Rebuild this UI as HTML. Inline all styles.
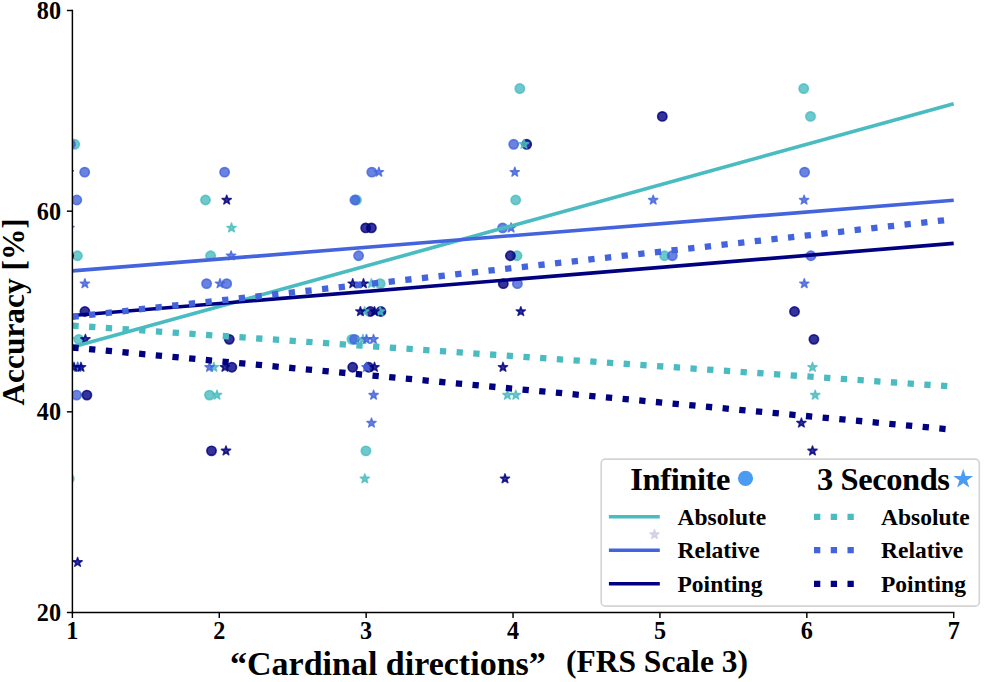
<!DOCTYPE html>
<html><head><meta charset="utf-8"><style>
html,body{margin:0;padding:0;background:#fff;width:984px;height:682px;overflow:hidden}
svg{display:block}
text{font-family:"Liberation Serif",serif;font-weight:bold}
</style></head><body>
<svg width="984" height="682" viewBox="0 0 984 682">
<defs><clipPath id="pa"><rect x="72.4" y="0" width="911.6" height="612.5"/></clipPath></defs>
<rect width="984" height="682" fill="#fff"/>
<g clip-path="url(#pa)">
<circle cx="74.70" cy="144.28" r="4.60" fill="#4abcc1" fill-opacity="0.80" stroke="#4abcc1" stroke-opacity="0.80" stroke-width="1.70"/>
<circle cx="77.40" cy="255.76" r="4.60" fill="#4abcc1" fill-opacity="0.80" stroke="#4abcc1" stroke-opacity="0.80" stroke-width="1.70"/>
<circle cx="78.80" cy="339.37" r="4.60" fill="#4abcc1" fill-opacity="0.80" stroke="#4abcc1" stroke-opacity="0.80" stroke-width="1.70"/>
<circle cx="69.20" cy="478.72" r="4.60" fill="#4abcc1" fill-opacity="0.80" stroke="#4abcc1" stroke-opacity="0.80" stroke-width="1.70"/>
<circle cx="205.50" cy="200.02" r="4.60" fill="#4abcc1" fill-opacity="0.80" stroke="#4abcc1" stroke-opacity="0.80" stroke-width="1.70"/>
<circle cx="210.60" cy="255.76" r="4.60" fill="#4abcc1" fill-opacity="0.80" stroke="#4abcc1" stroke-opacity="0.80" stroke-width="1.70"/>
<circle cx="209.50" cy="395.11" r="4.60" fill="#4abcc1" fill-opacity="0.80" stroke="#4abcc1" stroke-opacity="0.80" stroke-width="1.70"/>
<circle cx="356.50" cy="200.02" r="4.60" fill="#4abcc1" fill-opacity="0.80" stroke="#4abcc1" stroke-opacity="0.80" stroke-width="1.70"/>
<circle cx="380.20" cy="283.63" r="4.60" fill="#4abcc1" fill-opacity="0.80" stroke="#4abcc1" stroke-opacity="0.80" stroke-width="1.70"/>
<circle cx="351.90" cy="339.37" r="4.60" fill="#4abcc1" fill-opacity="0.80" stroke="#4abcc1" stroke-opacity="0.80" stroke-width="1.70"/>
<circle cx="365.90" cy="450.85" r="4.60" fill="#4abcc1" fill-opacity="0.80" stroke="#4abcc1" stroke-opacity="0.80" stroke-width="1.70"/>
<circle cx="519.80" cy="88.54" r="4.60" fill="#4abcc1" fill-opacity="0.80" stroke="#4abcc1" stroke-opacity="0.80" stroke-width="1.70"/>
<circle cx="515.70" cy="200.02" r="4.60" fill="#4abcc1" fill-opacity="0.80" stroke="#4abcc1" stroke-opacity="0.80" stroke-width="1.70"/>
<circle cx="517.00" cy="255.76" r="4.60" fill="#4abcc1" fill-opacity="0.80" stroke="#4abcc1" stroke-opacity="0.80" stroke-width="1.70"/>
<circle cx="664.60" cy="255.76" r="4.60" fill="#4abcc1" fill-opacity="0.80" stroke="#4abcc1" stroke-opacity="0.80" stroke-width="1.70"/>
<circle cx="803.70" cy="88.54" r="4.60" fill="#4abcc1" fill-opacity="0.80" stroke="#4abcc1" stroke-opacity="0.80" stroke-width="1.70"/>
<circle cx="810.50" cy="116.41" r="4.60" fill="#4abcc1" fill-opacity="0.80" stroke="#4abcc1" stroke-opacity="0.80" stroke-width="1.70"/>
<circle cx="70.50" cy="144.28" r="4.60" fill="#4364dc" fill-opacity="0.80" stroke="#4364dc" stroke-opacity="0.80" stroke-width="1.70"/>
<circle cx="84.70" cy="172.15" r="4.60" fill="#4364dc" fill-opacity="0.80" stroke="#4364dc" stroke-opacity="0.80" stroke-width="1.70"/>
<circle cx="76.80" cy="200.02" r="4.60" fill="#4364dc" fill-opacity="0.80" stroke="#4364dc" stroke-opacity="0.80" stroke-width="1.70"/>
<circle cx="76.60" cy="395.11" r="4.60" fill="#4364dc" fill-opacity="0.80" stroke="#4364dc" stroke-opacity="0.80" stroke-width="1.70"/>
<circle cx="224.60" cy="172.15" r="4.60" fill="#4364dc" fill-opacity="0.80" stroke="#4364dc" stroke-opacity="0.80" stroke-width="1.70"/>
<circle cx="206.60" cy="283.63" r="4.60" fill="#4364dc" fill-opacity="0.80" stroke="#4364dc" stroke-opacity="0.80" stroke-width="1.70"/>
<circle cx="226.70" cy="283.63" r="4.60" fill="#4364dc" fill-opacity="0.80" stroke="#4364dc" stroke-opacity="0.80" stroke-width="1.70"/>
<circle cx="371.80" cy="172.15" r="4.60" fill="#4364dc" fill-opacity="0.80" stroke="#4364dc" stroke-opacity="0.80" stroke-width="1.70"/>
<circle cx="354.90" cy="200.02" r="4.60" fill="#4364dc" fill-opacity="0.80" stroke="#4364dc" stroke-opacity="0.80" stroke-width="1.70"/>
<circle cx="358.60" cy="255.76" r="4.60" fill="#4364dc" fill-opacity="0.80" stroke="#4364dc" stroke-opacity="0.80" stroke-width="1.70"/>
<circle cx="354.60" cy="339.37" r="4.60" fill="#4364dc" fill-opacity="0.80" stroke="#4364dc" stroke-opacity="0.80" stroke-width="1.70"/>
<circle cx="513.70" cy="144.28" r="4.60" fill="#4364dc" fill-opacity="0.80" stroke="#4364dc" stroke-opacity="0.80" stroke-width="1.70"/>
<circle cx="502.60" cy="227.89" r="4.60" fill="#4364dc" fill-opacity="0.80" stroke="#4364dc" stroke-opacity="0.80" stroke-width="1.70"/>
<circle cx="517.40" cy="283.63" r="4.60" fill="#4364dc" fill-opacity="0.80" stroke="#4364dc" stroke-opacity="0.80" stroke-width="1.70"/>
<circle cx="672.30" cy="255.76" r="4.60" fill="#4364dc" fill-opacity="0.80" stroke="#4364dc" stroke-opacity="0.80" stroke-width="1.70"/>
<circle cx="804.60" cy="172.15" r="4.60" fill="#4364dc" fill-opacity="0.80" stroke="#4364dc" stroke-opacity="0.80" stroke-width="1.70"/>
<circle cx="810.90" cy="255.76" r="4.60" fill="#4364dc" fill-opacity="0.80" stroke="#4364dc" stroke-opacity="0.80" stroke-width="1.70"/>
<circle cx="68.70" cy="255.76" r="4.60" fill="#000080" fill-opacity="0.80" stroke="#000080" stroke-opacity="0.80" stroke-width="1.70"/>
<circle cx="84.90" cy="311.50" r="4.60" fill="#000080" fill-opacity="0.80" stroke="#000080" stroke-opacity="0.80" stroke-width="1.70"/>
<circle cx="86.90" cy="395.11" r="4.60" fill="#000080" fill-opacity="0.80" stroke="#000080" stroke-opacity="0.80" stroke-width="1.70"/>
<circle cx="229.30" cy="339.37" r="4.60" fill="#000080" fill-opacity="0.80" stroke="#000080" stroke-opacity="0.80" stroke-width="1.70"/>
<circle cx="231.90" cy="367.24" r="4.60" fill="#000080" fill-opacity="0.80" stroke="#000080" stroke-opacity="0.80" stroke-width="1.70"/>
<circle cx="211.50" cy="450.85" r="4.60" fill="#000080" fill-opacity="0.80" stroke="#000080" stroke-opacity="0.80" stroke-width="1.70"/>
<circle cx="365.70" cy="227.89" r="4.60" fill="#000080" fill-opacity="0.80" stroke="#000080" stroke-opacity="0.80" stroke-width="1.70"/>
<circle cx="371.40" cy="227.89" r="4.60" fill="#000080" fill-opacity="0.80" stroke="#000080" stroke-opacity="0.80" stroke-width="1.70"/>
<circle cx="370.30" cy="311.50" r="4.60" fill="#000080" fill-opacity="0.80" stroke="#000080" stroke-opacity="0.80" stroke-width="1.70"/>
<circle cx="380.90" cy="311.50" r="4.60" fill="#000080" fill-opacity="0.80" stroke="#000080" stroke-opacity="0.80" stroke-width="1.70"/>
<circle cx="352.70" cy="367.24" r="4.60" fill="#000080" fill-opacity="0.80" stroke="#000080" stroke-opacity="0.80" stroke-width="1.70"/>
<circle cx="368.70" cy="367.24" r="4.60" fill="#000080" fill-opacity="0.80" stroke="#000080" stroke-opacity="0.80" stroke-width="1.70"/>
<circle cx="526.70" cy="144.28" r="4.60" fill="#000080" fill-opacity="0.80" stroke="#000080" stroke-opacity="0.80" stroke-width="1.70"/>
<circle cx="510.40" cy="255.76" r="4.60" fill="#000080" fill-opacity="0.80" stroke="#000080" stroke-opacity="0.80" stroke-width="1.70"/>
<circle cx="503.30" cy="283.63" r="4.60" fill="#000080" fill-opacity="0.80" stroke="#000080" stroke-opacity="0.80" stroke-width="1.70"/>
<circle cx="662.30" cy="116.41" r="4.60" fill="#000080" fill-opacity="0.80" stroke="#000080" stroke-opacity="0.80" stroke-width="1.70"/>
<circle cx="794.50" cy="311.50" r="4.60" fill="#000080" fill-opacity="0.80" stroke="#000080" stroke-opacity="0.80" stroke-width="1.70"/>
<circle cx="813.90" cy="339.37" r="4.60" fill="#000080" fill-opacity="0.80" stroke="#000080" stroke-opacity="0.80" stroke-width="1.70"/>
<path d="M77.50,362.39 L78.59,365.74 L82.11,365.74 L79.26,367.81 L80.35,371.16 L77.50,369.09 L74.65,371.16 L75.74,367.81 L72.89,365.74 L76.41,365.74Z" fill="#4abcc1" fill-opacity="0.80" stroke="#4abcc1" stroke-opacity="0.80" stroke-width="1.50" stroke-linejoin="round"/>
<path d="M231.50,223.04 L232.59,226.39 L236.11,226.39 L233.26,228.46 L234.35,231.81 L231.50,229.74 L228.65,231.81 L229.74,228.46 L226.89,226.39 L230.41,226.39Z" fill="#4abcc1" fill-opacity="0.80" stroke="#4abcc1" stroke-opacity="0.80" stroke-width="1.50" stroke-linejoin="round"/>
<path d="M213.90,362.39 L214.99,365.74 L218.51,365.74 L215.66,367.81 L216.75,371.16 L213.90,369.09 L211.05,371.16 L212.14,367.81 L209.29,365.74 L212.81,365.74Z" fill="#4abcc1" fill-opacity="0.80" stroke="#4abcc1" stroke-opacity="0.80" stroke-width="1.50" stroke-linejoin="round"/>
<path d="M217.00,390.26 L218.09,393.61 L221.61,393.61 L218.76,395.68 L219.85,399.03 L217.00,396.96 L214.15,399.03 L215.24,395.68 L212.39,393.61 L215.91,393.61Z" fill="#4abcc1" fill-opacity="0.80" stroke="#4abcc1" stroke-opacity="0.80" stroke-width="1.50" stroke-linejoin="round"/>
<path d="M371.40,278.78 L372.49,282.13 L376.01,282.13 L373.16,284.20 L374.25,287.55 L371.40,285.48 L368.55,287.55 L369.64,284.20 L366.79,282.13 L370.31,282.13Z" fill="#4abcc1" fill-opacity="0.80" stroke="#4abcc1" stroke-opacity="0.80" stroke-width="1.50" stroke-linejoin="round"/>
<path d="M364.60,306.65 L365.69,310.00 L369.21,310.00 L366.36,312.07 L367.45,315.42 L364.60,313.35 L361.75,315.42 L362.84,312.07 L359.99,310.00 L363.51,310.00Z" fill="#4abcc1" fill-opacity="0.80" stroke="#4abcc1" stroke-opacity="0.80" stroke-width="1.50" stroke-linejoin="round"/>
<path d="M380.10,306.65 L381.19,310.00 L384.71,310.00 L381.86,312.07 L382.95,315.42 L380.10,313.35 L377.25,315.42 L378.34,312.07 L375.49,310.00 L379.01,310.00Z" fill="#4abcc1" fill-opacity="0.80" stroke="#4abcc1" stroke-opacity="0.80" stroke-width="1.50" stroke-linejoin="round"/>
<path d="M362.90,334.52 L363.99,337.87 L367.51,337.87 L364.66,339.94 L365.75,343.29 L362.90,341.22 L360.05,343.29 L361.14,339.94 L358.29,337.87 L361.81,337.87Z" fill="#4abcc1" fill-opacity="0.80" stroke="#4abcc1" stroke-opacity="0.80" stroke-width="1.50" stroke-linejoin="round"/>
<path d="M364.80,473.87 L365.89,477.22 L369.41,477.22 L366.56,479.29 L367.65,482.65 L364.80,480.57 L361.95,482.65 L363.04,479.29 L360.19,477.22 L363.71,477.22Z" fill="#4abcc1" fill-opacity="0.80" stroke="#4abcc1" stroke-opacity="0.80" stroke-width="1.50" stroke-linejoin="round"/>
<path d="M524.00,139.43 L525.09,142.78 L528.61,142.78 L525.76,144.85 L526.85,148.20 L524.00,146.13 L521.15,148.20 L522.24,144.85 L519.39,142.78 L522.91,142.78Z" fill="#4abcc1" fill-opacity="0.80" stroke="#4abcc1" stroke-opacity="0.80" stroke-width="1.50" stroke-linejoin="round"/>
<path d="M507.40,390.26 L508.49,393.61 L512.01,393.61 L509.16,395.68 L510.25,399.03 L507.40,396.96 L504.55,399.03 L505.64,395.68 L502.79,393.61 L506.31,393.61Z" fill="#4abcc1" fill-opacity="0.80" stroke="#4abcc1" stroke-opacity="0.80" stroke-width="1.50" stroke-linejoin="round"/>
<path d="M515.80,390.26 L516.89,393.61 L520.41,393.61 L517.56,395.68 L518.65,399.03 L515.80,396.96 L512.95,399.03 L514.04,395.68 L511.19,393.61 L514.71,393.61Z" fill="#4abcc1" fill-opacity="0.80" stroke="#4abcc1" stroke-opacity="0.80" stroke-width="1.50" stroke-linejoin="round"/>
<path d="M659.30,473.87 L660.39,477.22 L663.91,477.22 L661.06,479.29 L662.15,482.65 L659.30,480.57 L656.45,482.65 L657.54,479.29 L654.69,477.22 L658.21,477.22Z" fill="#4abcc1" fill-opacity="0.80" stroke="#4abcc1" stroke-opacity="0.80" stroke-width="1.50" stroke-linejoin="round"/>
<path d="M812.50,362.39 L813.59,365.74 L817.11,365.74 L814.26,367.81 L815.35,371.16 L812.50,369.09 L809.65,371.16 L810.74,367.81 L807.89,365.74 L811.41,365.74Z" fill="#4abcc1" fill-opacity="0.80" stroke="#4abcc1" stroke-opacity="0.80" stroke-width="1.50" stroke-linejoin="round"/>
<path d="M815.20,390.26 L816.29,393.61 L819.81,393.61 L816.96,395.68 L818.05,399.03 L815.20,396.96 L812.35,399.03 L813.44,395.68 L810.59,393.61 L814.11,393.61Z" fill="#4abcc1" fill-opacity="0.80" stroke="#4abcc1" stroke-opacity="0.80" stroke-width="1.50" stroke-linejoin="round"/>
<path d="M69.50,223.04 L70.59,226.39 L74.11,226.39 L71.26,228.46 L72.35,231.81 L69.50,229.74 L66.65,231.81 L67.74,228.46 L64.89,226.39 L68.41,226.39Z" fill="#4364dc" fill-opacity="0.80" stroke="#4364dc" stroke-opacity="0.80" stroke-width="1.50" stroke-linejoin="round"/>
<path d="M84.90,278.78 L85.99,282.13 L89.51,282.13 L86.66,284.20 L87.75,287.55 L84.90,285.48 L82.05,287.55 L83.14,284.20 L80.29,282.13 L83.81,282.13Z" fill="#4364dc" fill-opacity="0.80" stroke="#4364dc" stroke-opacity="0.80" stroke-width="1.50" stroke-linejoin="round"/>
<path d="M68.50,334.52 L69.59,337.87 L73.11,337.87 L70.26,339.94 L71.35,343.29 L68.50,341.22 L65.65,343.29 L66.74,339.94 L63.89,337.87 L67.41,337.87Z" fill="#4364dc" fill-opacity="0.80" stroke="#4364dc" stroke-opacity="0.80" stroke-width="1.50" stroke-linejoin="round"/>
<path d="M77.80,362.39 L78.89,365.74 L82.41,365.74 L79.56,367.81 L80.65,371.16 L77.80,369.09 L74.95,371.16 L76.04,367.81 L73.19,365.74 L76.71,365.74Z" fill="#4364dc" fill-opacity="0.80" stroke="#4364dc" stroke-opacity="0.80" stroke-width="1.50" stroke-linejoin="round"/>
<path d="M231.10,250.91 L232.19,254.26 L235.71,254.26 L232.86,256.33 L233.95,259.68 L231.10,257.61 L228.25,259.68 L229.34,256.33 L226.49,254.26 L230.01,254.26Z" fill="#4364dc" fill-opacity="0.80" stroke="#4364dc" stroke-opacity="0.80" stroke-width="1.50" stroke-linejoin="round"/>
<path d="M220.00,278.78 L221.09,282.13 L224.61,282.13 L221.76,284.20 L222.85,287.55 L220.00,285.48 L217.15,287.55 L218.24,284.20 L215.39,282.13 L218.91,282.13Z" fill="#4364dc" fill-opacity="0.80" stroke="#4364dc" stroke-opacity="0.80" stroke-width="1.50" stroke-linejoin="round"/>
<path d="M209.50,362.39 L210.59,365.74 L214.11,365.74 L211.26,367.81 L212.35,371.16 L209.50,369.09 L206.65,371.16 L207.74,367.81 L204.89,365.74 L208.41,365.74Z" fill="#4364dc" fill-opacity="0.80" stroke="#4364dc" stroke-opacity="0.80" stroke-width="1.50" stroke-linejoin="round"/>
<path d="M378.90,167.30 L379.99,170.65 L383.51,170.65 L380.66,172.72 L381.75,176.07 L378.90,174.00 L376.05,176.07 L377.14,172.72 L374.29,170.65 L377.81,170.65Z" fill="#4364dc" fill-opacity="0.80" stroke="#4364dc" stroke-opacity="0.80" stroke-width="1.50" stroke-linejoin="round"/>
<path d="M366.50,334.52 L367.59,337.87 L371.11,337.87 L368.26,339.94 L369.35,343.29 L366.50,341.22 L363.65,343.29 L364.74,339.94 L361.89,337.87 L365.41,337.87Z" fill="#4364dc" fill-opacity="0.80" stroke="#4364dc" stroke-opacity="0.80" stroke-width="1.50" stroke-linejoin="round"/>
<path d="M373.50,334.52 L374.59,337.87 L378.11,337.87 L375.26,339.94 L376.35,343.29 L373.50,341.22 L370.65,343.29 L371.74,339.94 L368.89,337.87 L372.41,337.87Z" fill="#4364dc" fill-opacity="0.80" stroke="#4364dc" stroke-opacity="0.80" stroke-width="1.50" stroke-linejoin="round"/>
<path d="M366.50,362.39 L367.59,365.74 L371.11,365.74 L368.26,367.81 L369.35,371.16 L366.50,369.09 L363.65,371.16 L364.74,367.81 L361.89,365.74 L365.41,365.74Z" fill="#4364dc" fill-opacity="0.80" stroke="#4364dc" stroke-opacity="0.80" stroke-width="1.50" stroke-linejoin="round"/>
<path d="M373.60,390.26 L374.69,393.61 L378.21,393.61 L375.36,395.68 L376.45,399.03 L373.60,396.96 L370.75,399.03 L371.84,395.68 L368.99,393.61 L372.51,393.61Z" fill="#4364dc" fill-opacity="0.80" stroke="#4364dc" stroke-opacity="0.80" stroke-width="1.50" stroke-linejoin="round"/>
<path d="M371.50,418.13 L372.59,421.48 L376.11,421.48 L373.26,423.55 L374.35,426.91 L371.50,424.83 L368.65,426.91 L369.74,423.55 L366.89,421.48 L370.41,421.48Z" fill="#4364dc" fill-opacity="0.80" stroke="#4364dc" stroke-opacity="0.80" stroke-width="1.50" stroke-linejoin="round"/>
<path d="M514.80,167.30 L515.89,170.65 L519.41,170.65 L516.56,172.72 L517.65,176.07 L514.80,174.00 L511.95,176.07 L513.04,172.72 L510.19,170.65 L513.71,170.65Z" fill="#4364dc" fill-opacity="0.80" stroke="#4364dc" stroke-opacity="0.80" stroke-width="1.50" stroke-linejoin="round"/>
<path d="M511.10,223.04 L512.19,226.39 L515.71,226.39 L512.86,228.46 L513.95,231.81 L511.10,229.74 L508.25,231.81 L509.34,228.46 L506.49,226.39 L510.01,226.39Z" fill="#4364dc" fill-opacity="0.80" stroke="#4364dc" stroke-opacity="0.80" stroke-width="1.50" stroke-linejoin="round"/>
<path d="M653.20,195.17 L654.29,198.52 L657.81,198.52 L654.96,200.59 L656.05,203.94 L653.20,201.87 L650.35,203.94 L651.44,200.59 L648.59,198.52 L652.11,198.52Z" fill="#4364dc" fill-opacity="0.80" stroke="#4364dc" stroke-opacity="0.80" stroke-width="1.50" stroke-linejoin="round"/>
<path d="M804.10,195.17 L805.19,198.52 L808.71,198.52 L805.86,200.59 L806.95,203.94 L804.10,201.87 L801.25,203.94 L802.34,200.59 L799.49,198.52 L803.01,198.52Z" fill="#4364dc" fill-opacity="0.80" stroke="#4364dc" stroke-opacity="0.80" stroke-width="1.50" stroke-linejoin="round"/>
<path d="M804.30,278.78 L805.39,282.13 L808.91,282.13 L806.06,284.20 L807.15,287.55 L804.30,285.48 L801.45,287.55 L802.54,284.20 L799.69,282.13 L803.21,282.13Z" fill="#4364dc" fill-opacity="0.80" stroke="#4364dc" stroke-opacity="0.80" stroke-width="1.50" stroke-linejoin="round"/>
<path d="M68.70,167.30 L69.79,170.65 L73.31,170.65 L70.46,172.72 L71.55,176.07 L68.70,174.00 L65.85,176.07 L66.94,172.72 L64.09,170.65 L67.61,170.65Z" fill="#000080" fill-opacity="0.80" stroke="#000080" stroke-opacity="0.80" stroke-width="1.50" stroke-linejoin="round"/>
<path d="M85.40,334.52 L86.49,337.87 L90.01,337.87 L87.16,339.94 L88.25,343.29 L85.40,341.22 L82.55,343.29 L83.64,339.94 L80.79,337.87 L84.31,337.87Z" fill="#000080" fill-opacity="0.80" stroke="#000080" stroke-opacity="0.80" stroke-width="1.50" stroke-linejoin="round"/>
<path d="M74.00,362.39 L75.09,365.74 L78.61,365.74 L75.76,367.81 L76.85,371.16 L74.00,369.09 L71.15,371.16 L72.24,367.81 L69.39,365.74 L72.91,365.74Z" fill="#000080" fill-opacity="0.80" stroke="#000080" stroke-opacity="0.80" stroke-width="1.50" stroke-linejoin="round"/>
<path d="M81.00,362.39 L82.09,365.74 L85.61,365.74 L82.76,367.81 L83.85,371.16 L81.00,369.09 L78.15,371.16 L79.24,367.81 L76.39,365.74 L79.91,365.74Z" fill="#000080" fill-opacity="0.80" stroke="#000080" stroke-opacity="0.80" stroke-width="1.50" stroke-linejoin="round"/>
<path d="M77.60,557.48 L78.69,560.83 L82.21,560.83 L79.36,562.91 L80.45,566.26 L77.60,564.19 L74.75,566.26 L75.84,562.91 L72.99,560.83 L76.51,560.83Z" fill="#000080" fill-opacity="0.80" stroke="#000080" stroke-opacity="0.80" stroke-width="1.50" stroke-linejoin="round"/>
<path d="M226.70,195.17 L227.79,198.52 L231.31,198.52 L228.46,200.59 L229.55,203.94 L226.70,201.87 L223.85,203.94 L224.94,200.59 L222.09,198.52 L225.61,198.52Z" fill="#000080" fill-opacity="0.80" stroke="#000080" stroke-opacity="0.80" stroke-width="1.50" stroke-linejoin="round"/>
<path d="M224.90,362.39 L225.99,365.74 L229.51,365.74 L226.66,367.81 L227.75,371.16 L224.90,369.09 L222.05,371.16 L223.14,367.81 L220.29,365.74 L223.81,365.74Z" fill="#000080" fill-opacity="0.80" stroke="#000080" stroke-opacity="0.80" stroke-width="1.50" stroke-linejoin="round"/>
<path d="M226.00,446.00 L227.09,449.35 L230.61,449.35 L227.76,451.42 L228.85,454.78 L226.00,452.70 L223.15,454.78 L224.24,451.42 L221.39,449.35 L224.91,449.35Z" fill="#000080" fill-opacity="0.80" stroke="#000080" stroke-opacity="0.80" stroke-width="1.50" stroke-linejoin="round"/>
<path d="M352.70,278.78 L353.79,282.13 L357.31,282.13 L354.46,284.20 L355.55,287.55 L352.70,285.48 L349.85,287.55 L350.94,284.20 L348.09,282.13 L351.61,282.13Z" fill="#000080" fill-opacity="0.80" stroke="#000080" stroke-opacity="0.80" stroke-width="1.50" stroke-linejoin="round"/>
<path d="M363.50,278.78 L364.59,282.13 L368.11,282.13 L365.26,284.20 L366.35,287.55 L363.50,285.48 L360.65,287.55 L361.74,284.20 L358.89,282.13 L362.41,282.13Z" fill="#000080" fill-opacity="0.80" stroke="#000080" stroke-opacity="0.80" stroke-width="1.50" stroke-linejoin="round"/>
<path d="M360.40,306.65 L361.49,310.00 L365.01,310.00 L362.16,312.07 L363.25,315.42 L360.40,313.35 L357.55,315.42 L358.64,312.07 L355.79,310.00 L359.31,310.00Z" fill="#000080" fill-opacity="0.80" stroke="#000080" stroke-opacity="0.80" stroke-width="1.50" stroke-linejoin="round"/>
<path d="M374.50,306.65 L375.59,310.00 L379.11,310.00 L376.26,312.07 L377.35,315.42 L374.50,313.35 L371.65,315.42 L372.74,312.07 L369.89,310.00 L373.41,310.00Z" fill="#000080" fill-opacity="0.80" stroke="#000080" stroke-opacity="0.80" stroke-width="1.50" stroke-linejoin="round"/>
<path d="M374.50,362.39 L375.59,365.74 L379.11,365.74 L376.26,367.81 L377.35,371.16 L374.50,369.09 L371.65,371.16 L372.74,367.81 L369.89,365.74 L373.41,365.74Z" fill="#000080" fill-opacity="0.80" stroke="#000080" stroke-opacity="0.80" stroke-width="1.50" stroke-linejoin="round"/>
<path d="M520.80,306.65 L521.89,310.00 L525.41,310.00 L522.56,312.07 L523.65,315.42 L520.80,313.35 L517.95,315.42 L519.04,312.07 L516.19,310.00 L519.71,310.00Z" fill="#000080" fill-opacity="0.80" stroke="#000080" stroke-opacity="0.80" stroke-width="1.50" stroke-linejoin="round"/>
<path d="M503.00,362.39 L504.09,365.74 L507.61,365.74 L504.76,367.81 L505.85,371.16 L503.00,369.09 L500.15,371.16 L501.24,367.81 L498.39,365.74 L501.91,365.74Z" fill="#000080" fill-opacity="0.80" stroke="#000080" stroke-opacity="0.80" stroke-width="1.50" stroke-linejoin="round"/>
<path d="M505.00,473.87 L506.09,477.22 L509.61,477.22 L506.76,479.29 L507.85,482.65 L505.00,480.57 L502.15,482.65 L503.24,479.29 L500.39,477.22 L503.91,477.22Z" fill="#000080" fill-opacity="0.80" stroke="#000080" stroke-opacity="0.80" stroke-width="1.50" stroke-linejoin="round"/>
<path d="M654.50,529.61 L655.59,532.96 L659.11,532.96 L656.26,535.04 L657.35,538.39 L654.50,536.32 L651.65,538.39 L652.74,535.04 L649.89,532.96 L653.41,532.96Z" fill="#000080" fill-opacity="0.80" stroke="#000080" stroke-opacity="0.80" stroke-width="1.50" stroke-linejoin="round"/>
<path d="M801.40,418.13 L802.49,421.48 L806.01,421.48 L803.16,423.55 L804.25,426.91 L801.40,424.83 L798.55,426.91 L799.64,423.55 L796.79,421.48 L800.31,421.48Z" fill="#000080" fill-opacity="0.80" stroke="#000080" stroke-opacity="0.80" stroke-width="1.50" stroke-linejoin="round"/>
<path d="M812.50,446.00 L813.59,449.35 L817.11,449.35 L814.26,451.42 L815.35,454.78 L812.50,452.70 L809.65,454.78 L810.74,451.42 L807.89,449.35 L811.41,449.35Z" fill="#000080" fill-opacity="0.80" stroke="#000080" stroke-opacity="0.80" stroke-width="1.50" stroke-linejoin="round"/>
<line x1="72.40" y1="347.10" x2="953.70" y2="103.70" stroke="#4abcc1" stroke-width="3.60" stroke-linecap="butt"/>
<line x1="72.40" y1="270.90" x2="953.70" y2="200.20" stroke="#4364dc" stroke-width="3.60" stroke-linecap="butt"/>
<line x1="72.40" y1="315.50" x2="953.70" y2="243.40" stroke="#000080" stroke-width="3.60" stroke-linecap="butt"/>
<line x1="72.40" y1="325.60" x2="953.70" y2="386.60" stroke="#4abcc1" stroke-width="6.30" stroke-dasharray="6.300 10.444" stroke-linecap="butt"/>
<line x1="72.40" y1="316.80" x2="953.70" y2="219.20" stroke="#4364dc" stroke-width="6.30" stroke-dasharray="6.300 10.444" stroke-linecap="butt"/>
<line x1="72.40" y1="347.50" x2="953.70" y2="429.80" stroke="#000080" stroke-width="6.30" stroke-dasharray="6.300 10.444" stroke-linecap="butt"/>
</g>
<line x1="72.40" y1="10.50" x2="72.40" y2="612.50" stroke="#000" stroke-width="1.45" stroke-linecap="square"/>
<line x1="72.40" y1="612.50" x2="953.70" y2="612.50" stroke="#000" stroke-width="1.45" stroke-linecap="square"/>
<line x1="66.90" y1="612.50" x2="72.40" y2="612.50" stroke="#000" stroke-width="1.45"/>
<line x1="66.90" y1="411.83" x2="72.40" y2="411.83" stroke="#000" stroke-width="1.45"/>
<line x1="66.90" y1="211.17" x2="72.40" y2="211.17" stroke="#000" stroke-width="1.45"/>
<line x1="66.90" y1="10.50" x2="72.40" y2="10.50" stroke="#000" stroke-width="1.45"/>
<line x1="72.40" y1="612.50" x2="72.40" y2="618.00" stroke="#000" stroke-width="1.45"/>
<line x1="219.28" y1="612.50" x2="219.28" y2="618.00" stroke="#000" stroke-width="1.45"/>
<line x1="366.17" y1="612.50" x2="366.17" y2="618.00" stroke="#000" stroke-width="1.45"/>
<line x1="513.05" y1="612.50" x2="513.05" y2="618.00" stroke="#000" stroke-width="1.45"/>
<line x1="659.93" y1="612.50" x2="659.93" y2="618.00" stroke="#000" stroke-width="1.45"/>
<line x1="806.82" y1="612.50" x2="806.82" y2="618.00" stroke="#000" stroke-width="1.45"/>
<line x1="953.70" y1="612.50" x2="953.70" y2="618.00" stroke="#000" stroke-width="1.45"/>
<text x="61.0" y="620.60" font-family="Liberation Serif" font-weight="bold" font-size="24.2" text-anchor="end">20</text>
<text x="61.0" y="420.13" font-family="Liberation Serif" font-weight="bold" font-size="24.2" text-anchor="end">40</text>
<text x="61.0" y="220.27" font-family="Liberation Serif" font-weight="bold" font-size="24.2" text-anchor="end">60</text>
<text x="61.0" y="18.80" font-family="Liberation Serif" font-weight="bold" font-size="24.2" text-anchor="end">80</text>
<text x="72.40" y="639.3" font-family="Liberation Serif" font-weight="bold" font-size="24.2" text-anchor="middle">1</text>
<text x="219.28" y="639.3" font-family="Liberation Serif" font-weight="bold" font-size="24.2" text-anchor="middle">2</text>
<text x="366.17" y="639.3" font-family="Liberation Serif" font-weight="bold" font-size="24.2" text-anchor="middle">3</text>
<text x="513.05" y="639.3" font-family="Liberation Serif" font-weight="bold" font-size="24.2" text-anchor="middle">4</text>
<text x="659.93" y="639.3" font-family="Liberation Serif" font-weight="bold" font-size="24.2" text-anchor="middle">5</text>
<text x="806.82" y="639.3" font-family="Liberation Serif" font-weight="bold" font-size="24.2" text-anchor="middle">6</text>
<text x="953.70" y="639.3" font-family="Liberation Serif" font-weight="bold" font-size="24.2" text-anchor="middle">7</text>
<text transform="translate(23.8,405.6) rotate(-90)" font-family="Liberation Serif" font-weight="bold" font-size="31.4">Accuracy [%]</text>
<text x="230" y="674.6" font-family="Liberation Serif" font-weight="bold" font-size="34">“Cardinal directions”</text>
<text x="566" y="672.3" font-family="Liberation Serif" font-weight="bold" font-size="31.5">(FRS Scale 3)</text>
<rect x="601.2" y="459.1" width="378.1" height="147.0" rx="4.2" ry="4.2" fill="#fff" fill-opacity="0.8" stroke="#d4d4d4" stroke-width="1.6"/>
<text x="630.3" y="489.9" font-family="Liberation Serif" font-weight="bold" font-size="32.5" letter-spacing="-0.4">Infinite</text>
<circle cx="745.5" cy="478.3" r="7.6" fill="#4a9cf2"/>
<text x="817" y="489.8" font-family="Liberation Serif" font-weight="bold" font-size="32.5" letter-spacing="-0.42">3 Seconds</text>
<path d="M963.20,468.80 L965.53,475.99 L973.09,475.99 L966.98,480.43 L969.31,487.61 L963.20,483.17 L957.09,487.61 L959.42,480.43 L953.31,475.99 L960.87,475.99Z" fill="#4a9cf2"/>
<line x1="608.9" y1="516.80" x2="659.8" y2="516.80" stroke="#4abcc1" stroke-width="3.6"/>
<line x1="814" y1="516.80" x2="858" y2="516.80" stroke="#4abcc1" stroke-width="6.3" stroke-dasharray="6.3 10.444"/>
<text x="677.5" y="524.50" font-family="Liberation Serif" font-weight="bold" font-size="23.5">Absolute</text>
<text x="881" y="524.50" font-family="Liberation Serif" font-weight="bold" font-size="23.5">Absolute</text>
<line x1="608.9" y1="550.20" x2="659.8" y2="550.20" stroke="#4364dc" stroke-width="3.6"/>
<line x1="814" y1="550.20" x2="858" y2="550.20" stroke="#4364dc" stroke-width="6.3" stroke-dasharray="6.3 10.444"/>
<text x="677.5" y="557.90" font-family="Liberation Serif" font-weight="bold" font-size="23.5">Relative</text>
<text x="881" y="557.90" font-family="Liberation Serif" font-weight="bold" font-size="23.5">Relative</text>
<line x1="608.9" y1="583.80" x2="659.8" y2="583.80" stroke="#000080" stroke-width="3.6"/>
<line x1="814" y1="583.80" x2="858" y2="583.80" stroke="#000080" stroke-width="6.3" stroke-dasharray="6.3 10.444"/>
<text x="677.5" y="591.50" font-family="Liberation Serif" font-weight="bold" font-size="23.5">Pointing</text>
<text x="881" y="591.50" font-family="Liberation Serif" font-weight="bold" font-size="23.5">Pointing</text>
</svg>
</body></html>
